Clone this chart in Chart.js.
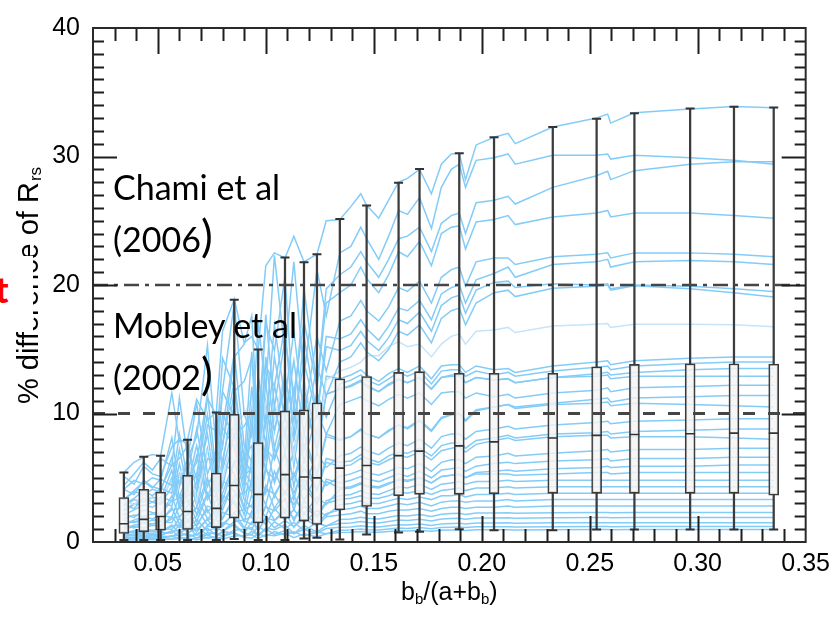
<!DOCTYPE html>
<html>
<head>
<meta charset="utf-8">
<script src="https://cdn.jsdelivr.net/npm/chart.js@4.4.1/dist/chart.umd.min.js"></script>
<style>
  html, body { margin: 0; padding: 0; background: #fff; }
  #wrap { position: relative; width: 837px; height: 620px; overflow: hidden; background: #fff; }
  #c { position: absolute; left: 0; top: 0; }
  .note { position: absolute; font-family: Lato, "Open Sans", sans-serif; font-size: 34px; line-height: 34px; color: #000; white-space: nowrap; }
  .note .big { font-size: 44px; line-height: 0; }
  #cover { position: absolute; left: 0; top: 256px; width: 33px; height: 76px; background: #fff; }
  #redt { position: absolute; left: -5px; top: 271px; font-family: Lato, sans-serif; font-weight: 900; font-size: 36px; line-height: 36px; color: #ff0000; }
</style>
</head>
<body>
<div id="wrap">
  <canvas id="c" width="837" height="620"></canvas>
  <div class="note" style="left:113px; top:170px;">Chami et al</div>
  <div class="note" style="left:113px; top:222px;">(2006<span class="big">)</span></div>
  <div class="note" style="left:113px; top:308px;">Mobley et al</div>
  <div class="note" style="left:113px; top:360px;">(2002<span class="big">)</span></div>
  <div id="cover"></div>
  <div id="redt">t</div>
</div>
<script>
// backscattering ratio b_b/(a+b_b) at which every curve is sampled
const xGrid = [0.0343,0.0390,0.0435,0.0475,0.0513,0.0565,0.0600,0.0638,0.0680,0.0730,0.0771,0.0800,0.0854,0.0900,0.0935,0.0965,0.1000,0.1040,0.1089,0.1130,0.1177,0.1237,0.1280,
  0.1343,0.1394,0.1440,0.1467,0.1523,0.1569,0.1615,0.1656,0.1712,0.1767,0.1813,0.1859,0.1896,0.1925,0.1974,
  0.2057,0.2122,0.2155,0.2329,0.2532,0.2583,0.2597,0.2707,0.2965,0.3168,0.3352];

// % difference of Rrs, one curve per case (upper family)
const up1 = [5.4,6.2,6.6,6.8,6.7,11.6,7.8,8.0,11.1,9.5,10.1,16.4,18.9,15.5,16.0,15.0,21.5,22.5,22.1,23.8,21.8,22.4,25.0,
  25.1,26.1,27.1,26.2,25.2,26.6,28.0,28.3,29.0,27.1,29.4,30.2,30.25,28.2,30.9,
  31.5,31.8,31.0,32.3,33.0,33.3,32.6,33.4,33.7,33.9,33.8];
const up2 = [4.4,5.3,6.2,5.6,6.5,5.9,11.2,6.5,8.2,15.3,7.1,11.8,18.6,10.0,8.2,17.1,11.8,22.3,14.7,21.8,12.9,21.2,17.6,
  22.5,23.0,24.5,23.6,22.0,23.8,25.8,25.5,26.8,24.4,27.6,29.0,29.4,27.6,29.7,
  29.9,30.2,29.4,30.1,30.1,30.2,29.8,30.1,29.9,29.7,29.4];
const up3 = [5.1,4.5,5.9,5.3,5.1,7.4,8.0,7.6,4.8,11.2,9.8,7.4,14.4,15.4,17.6,8.0,17.0,14.9,20.7,10.1,19.7,12.2,19.7,
  20.8,21.4,22.6,21.8,20.6,22.0,23.6,23.8,24.5,22.6,24.8,25.4,25.6,24.0,26.4,
  26.6,26.9,26.3,27.6,28.5,28.85,28.2,28.9,29.4,29.6,29.6];
const up4 = [4.1,4.8,4.5,5.0,4.8,8.1,4.3,6.5,10.8,5.3,7.2,14.3,12.0,6.2,14.8,8.6,17.7,10.5,15.8,11.5,17.2,12.0,18.6,
  19.4,20.0,21.4,20.5,19.4,20.8,22.6,22.2,23.4,21.5,24.0,24.5,24.6,22.8,24.9,
  25.1,25.4,24.7,25.3,25.6,25.8,25.3,25.6,25.6,25.4,25.2];
const up5 = [3.3,4.0,4.7,4.2,4.9,4.4,8.4,4.9,6.2,11.5,5.3,8.9,14.7,7.5,6.2,12.9,8.9,16.9,11.1,16.4,9.8,16.0,13.3,
  17.2,17.6,18.8,18.0,17.2,18.3,19.8,19.5,20.3,18.6,20.6,21.2,21.4,19.9,21.8,
  22.1,22.1,21.6,22.2,22.4,22.5,22.1,22.5,22.5,22.4,22.2];
const up6 = [4.1,3.7,4.8,4.3,4.1,6.0,6.5,7.5,3.9,9.1,8.6,6.0,11.7,12.5,14.3,6.5,13.8,12.1,16.8,8.2,16.0,9.9,16.0,
  15.8,16.2,17.3,16.6,15.7,16.8,18.2,18.0,18.8,17.3,19.3,19.8,20.0,18.6,20.4,
  20.9,21.4,20.6,21.6,21.8,22.0,21.4,21.8,21.9,21.8,21.6];
const up7 = [3.3,3.9,3.7,4.1,3.9,6.6,3.5,5.3,8.8,4.3,5.9,11.7,9.8,5.1,12.1,7.0,14.4,8.6,12.9,9.4,14.0,9.8,15.2,
  14.9,15.3,16.4,15.7,14.9,15.9,17.3,17.0,17.9,16.4,18.4,19.0,19.2,17.8,19.6,
  20.2,20.3,19.8,20.1,20.0,20.1,19.7,20.0,19.9,19.7,19.5];
const up8 = [2.9,3.4,4.0,3.6,4.2,3.8,7.2,4.2,5.3,9.9,4.6,7.6,12.5,6.5,5.3,11.0,7.6,14.4,9.5,14.1,8.4,13.7,11.4,
  14.0,14.4,15.5,14.8,14.1,15.0,16.4,16.1,16.9,15.5,17.4,18.0,18.2,16.9,18.6,
  19.4,19.6,19.1,19.75,19.9,20.0,19.6,19.95,19.7,19.4,19.06];
const up9 = [3.2,2.9,3.7,3.4,3.2,4.8,5.1,6.5,3.1,7.1,6.8,4.8,9.2,9.9,11.2,5.1,10.9,9.5,13.3,6.5,12.6,7.8,12.6,
  13.3,13.6,14.0,14.5,14.5,15.2,15.6,15.2,15.4,14.4,15.4,16.0,16.2,15.4,16.4,
  16.5,16.7,16.3,16.8,16.95,17.0,16.7,16.95,16.95,16.9,16.75];

// bundle below 15 %
const bu1 = [2.8,3.3,3.1,3.5,3.3,5.6,3.0,4.5,7.5,3.6,5.0,9.9,8.3,4.3,10.3,6.0,12.3,7.3,10.9,7.9,11.9,8.3,12.9,
  12.7,13.0,13.4,13.0,12.5,13.1,13.5,13.2,13.7,12.7,13.7,13.8,13.8,13.2,13.7,
  13.4,13.5,13.2,13.7,14.0,14.1,13.8,14.1,14.3,14.4,14.4];
const bu2 = [2.4,2.9,3.4,3.1,3.5,3.2,6.1,3.5,4.5,8.4,3.9,6.4,10.6,5.5,4.5,9.3,6.4,12.2,8.1,11.9,7.1,11.6,9.7,
  12.3,12.6,13.0,12.6,12.2,12.7,13.2,12.9,13.3,12.3,13.3,13.4,13.4,12.9,13.3,
  13.0,13.2,12.9,13.3,13.6,13.7,13.4,13.7,13.9,14.0,14.0];
const bu3 = [2.9,2.6,3.4,3.1,2.9,4.3,4.7,5.9,2.8,6.5,6.2,4.3,8.4,9.0,10.2,4.7,9.9,8.7,12.1,5.9,11.5,7.1,11.5,
  11.9,12.2,12.6,12.2,11.7,12.3,12.7,12.4,12.8,11.9,12.8,13.0,13.0,12.4,12.8,
  12.6,12.7,12.4,12.8,13.1,13.2,13.0,13.2,13.4,13.5,13.5];
const bu4 = [2.5,3.0,2.8,3.1,3.0,5.0,2.7,4.0,6.7,3.3,4.4,8.9,7.4,3.8,9.2,5.3,11.0,6.5,9.8,7.1,10.7,7.4,11.5,
  11.9,12.1,12.5,12.1,11.7,12.2,12.6,12.4,12.8,11.9,12.8,12.9,12.9,12.4,12.8,
  12.6,12.7,12.4,12.8,12.9,13.0,12.7,12.9,12.9,12.9,12.9];
const bu5 = [2.1,2.5,2.9,2.7,3.1,2.8,5.3,3.1,3.9,7.3,3.4,5.6,9.2,4.8,3.9,8.1,5.6,10.6,7.0,10.4,6.2,10.1,8.4,
  10.7,11.0,11.3,11.0,10.6,11.1,11.5,11.2,11.6,10.7,11.6,11.7,11.7,11.2,11.6,
  11.3,11.5,11.2,11.6,11.8,12.0,11.7,12.0,12.1,12.2,12.2];
const mid1 = [2.2,1.9,2.5,2.3,2.2,3.2,3.4,4.3,2.1,4.8,4.6,3.2,6.2,6.6,7.5,3.4,7.3,6.4,8.9,4.3,8.4,5.2,8.4,
  8.0,8.2,8.8,8.4,8.1,8.7,9.1,8.9,9.5,8.7,9.7,9.9,10.0,9.5,10.3,
  10.5,10.7,10.5,10.8,11.1,11.2,10.9,11.2,11.3,11.4,11.4];
const mid2 = [1.8,2.1,2.0,2.2,2.1,3.6,1.9,2.8,4.7,2.3,3.2,6.3,5.3,2.7,6.5,3.8,7.8,4.6,6.9,5.0,7.6,5.3,8.2,
  7.9,8.2,8.7,8.4,8.1,8.6,9.1,8.8,9.4,8.6,9.6,9.9,10.0,9.4,10.2,
  10.5,10.7,10.4,10.7,10.8,10.9,10.6,10.8,10.7,10.6,10.5];
const mid3 = [1.4,1.7,2.0,1.8,2.1,1.9,3.6,2.1,2.7,5.0,2.3,3.8,6.3,3.3,2.7,5.6,3.8,7.3,4.8,7.1,4.2,6.9,5.8,
  6.7,6.9,7.4,7.1,6.8,7.3,7.7,7.5,8.0,7.3,8.2,8.4,8.4,8.0,8.6,
  8.8,9.0,8.8,9.1,9.3,9.4,9.2,9.4,9.5,9.6,9.6];
const mid4 = [1.7,1.5,1.9,1.8,1.7,2.5,2.6,3.3,1.6,3.7,3.5,2.5,4.8,5.1,5.8,2.6,5.6,4.9,6.9,3.3,6.5,4.0,6.5,
  6.2,6.3,6.8,6.5,6.2,6.7,7.0,6.9,7.3,6.7,7.5,7.7,7.7,7.3,7.9,
  8.1,8.3,8.1,8.4,8.5,8.6,8.4,8.6,8.7,8.8,8.8];
const mid5 = [1.4,1.6,1.5,1.7,1.6,2.7,1.4,2.2,3.6,1.8,2.4,4.8,4.0,2.1,5.0,2.9,5.9,3.5,5.3,3.8,5.8,4.0,6.2,
  5.9,6.0,6.5,6.2,6.0,6.4,6.7,6.6,7.0,6.4,7.1,7.3,7.4,7.0,7.6,
  7.9,8.1,7.9,8.2,8.3,8.3,8.1,8.2,8.2,8.1,8.0];
const mid6 = [1.1,1.3,1.5,1.4,1.6,1.5,2.8,1.6,2.0,3.8,1.8,2.9,4.8,2.5,2.0,4.2,2.9,5.5,3.7,5.4,3.2,5.3,4.4,
  5.1,5.3,5.6,5.4,5.2,5.5,5.8,5.7,6.1,5.5,6.2,6.4,6.4,6.1,6.6,
  6.7,6.9,6.7,6.9,7.1,7.2,7.0,7.2,7.2,7.3,7.3];
const mid7 = [1.3,1.1,1.5,1.3,1.3,1.8,2.0,2.5,1.2,2.8,2.6,1.8,3.6,3.8,4.4,2.0,4.2,3.7,5.1,2.5,4.9,3.0,4.9,
  4.6,4.8,5.1,4.9,4.7,5.0,5.3,5.1,5.5,5.0,5.6,5.7,5.8,5.5,5.9,
  6.1,6.2,6.1,6.3,6.4,6.5,6.3,6.5,6.5,6.6,6.6];
const mid8 = [1.0,1.2,1.1,1.3,1.2,2.0,1.1,1.6,2.7,1.3,1.8,3.6,3.0,1.6,3.7,2.2,4.4,2.6,4.0,2.9,4.3,3.0,4.7,
  4.2,4.3,4.6,4.4,4.3,4.6,4.8,4.7,5.0,4.6,5.1,5.2,5.3,5.0,5.4,
  5.5,5.6,5.5,5.7,5.8,5.9,5.8,5.9,5.9,6.0,6.0];
const low1 = [0.73,0.87,1.02,0.92,1.07,0.97,1.85,1.07,1.36,2.53,1.17,1.94,3.21,1.65,1.36,2.82,1.94,3.69,2.43,3.60,2.14,3.50,2.92,
  4.1,4.2,4.5,4.3,4.2,4.5,4.9,4.8,5.0,4.6,5.1,5.2,5.2,5.0,5.3,
  5.3,5.3,5.2,5.3,5.4,5.4,5.3,5.4,5.4,5.4,5.4];
const low2 = [0.82,0.73,0.95,0.86,0.82,1.21,1.30,1.64,0.78,1.81,1.73,1.21,2.33,2.51,2.85,1.30,2.76,2.42,3.37,1.64,3.20,1.99,3.20,
  3.6,3.7,4.0,3.8,3.7,4.0,4.3,4.2,4.5,4.1,4.5,4.6,4.7,4.5,4.7,
  4.7,4.8,4.7,4.8,4.8,4.8,4.8,4.8,4.8,4.8,4.8];
const low3 = [0.66,0.77,0.74,0.81,0.77,1.32,0.70,1.04,1.74,0.85,1.16,2.32,1.94,1.01,2.40,1.39,2.86,1.70,2.55,1.86,2.79,1.94,3.02,
  3.3,3.4,3.6,3.4,3.4,3.6,3.9,3.8,4.0,3.7,4.0,4.1,4.2,4.0,4.2,
  4.2,4.3,4.2,4.3,4.3,4.3,4.3,4.3,4.3,4.3,4.3];
const low4 = [0.51,0.62,0.72,0.65,0.75,0.68,1.30,0.75,0.96,1.78,0.82,1.37,2.26,1.16,0.96,1.98,1.37,2.60,1.71,2.53,1.50,2.46,2.05,
  2.9,3.0,3.2,3.0,3.0,3.2,3.4,3.3,3.5,3.3,3.6,3.6,3.7,3.5,3.7,
  3.7,3.8,3.7,3.8,3.8,3.8,3.8,3.8,3.8,3.8,3.8];
const low5 = [0.56,0.50,0.65,0.59,0.56,0.83,0.89,1.13,0.53,1.25,1.19,0.83,1.60,1.72,1.96,0.89,1.90,1.66,2.32,1.13,2.20,1.37,2.20,
  2.5,2.6,2.8,2.6,2.6,2.8,3.0,2.9,3.1,2.8,3.1,3.2,3.2,3.1,3.2,
  3.2,3.3,3.2,3.3,3.3,3.3,3.3,3.3,3.3,3.3,3.3];
const low6 = [0.43,0.50,0.48,0.53,0.50,0.86,0.45,0.68,1.13,0.55,0.76,1.51,1.26,0.66,1.56,0.91,1.86,1.11,1.66,1.21,1.81,1.26,1.97,
  2.1,2.2,2.4,2.2,2.2,2.4,2.5,2.5,2.6,2.4,2.6,2.7,2.7,2.6,2.7,
  2.7,2.8,2.7,2.8,2.8,2.8,2.8,2.8,2.8,2.8,2.8];
const low7 = [0.31,0.37,0.43,0.39,0.46,0.41,0.79,0.46,0.58,1.08,0.50,0.83,1.37,0.70,0.58,1.20,0.83,1.57,1.04,1.53,0.91,1.49,1.24,
  1.75,1.79,1.93,1.84,1.79,1.93,2.07,2.02,2.14,1.98,2.16,2.21,2.23,2.14,2.25,
  2.25,2.28,2.23,2.28,2.3,2.3,2.28,2.3,2.3,2.3,2.3];
const low8 = [0.32,0.29,0.38,0.34,0.32,0.48,0.51,0.65,0.31,0.72,0.68,0.48,0.92,0.99,1.13,0.51,1.09,0.96,1.33,0.65,1.27,0.79,1.27,
  1.44,1.48,1.60,1.52,1.48,1.60,1.71,1.67,1.77,1.63,1.79,1.82,1.84,1.77,1.86,
  1.86,1.88,1.84,1.88,1.9,1.9,1.88,1.9,1.9,1.9,1.9];
const low9 = [0.23,0.27,0.26,0.28,0.27,0.46,0.24,0.36,0.61,0.30,0.41,0.81,0.68,0.35,0.84,0.49,1.00,0.59,0.89,0.65,0.97,0.68,1.05,
  1.14,1.17,1.26,1.20,1.17,1.26,1.35,1.32,1.40,1.29,1.41,1.44,1.46,1.40,1.47,
  1.47,1.49,1.46,1.49,1.5,1.5,1.49,1.5,1.5,1.5,1.5];
const low10 = [0.16,0.19,0.23,0.21,0.24,0.22,0.41,0.24,0.30,0.56,0.26,0.43,0.71,0.37,0.30,0.63,0.43,0.82,0.54,0.80,0.48,0.78,0.65,
  0.91,0.94,1.01,0.96,0.94,1.01,1.08,1.06,1.12,1.03,1.13,1.15,1.16,1.12,1.18,
  1.18,1.19,1.16,1.19,1.2,1.2,1.19,1.2,1.2,1.2,1.2];
const low11 = [0.17,0.15,0.19,0.17,0.17,0.24,0.26,0.33,0.16,0.37,0.35,0.24,0.47,0.50,0.57,0.26,0.56,0.49,0.68,0.33,0.64,0.40,0.64,
  0.74,0.76,0.81,0.78,0.76,0.81,0.87,0.85,0.90,0.83,0.91,0.93,0.94,0.90,0.95,
  0.95,0.96,0.94,0.96,0.97,0.97,0.96,0.97,0.97,0.97,0.97];

// box-and-whisker summaries of the curves at selected ratios
const boxX   = [0.0343,0.0435,0.0513,0.0638,0.0771,0.0854,0.0965,0.1089,0.1177,0.1237,0.1343,0.1467,0.1615,0.1712,0.1896,0.2057,0.2329,0.2532,0.2707,0.2965,0.3168,0.3352];
const boxMin = [0.15,0.15,0.15,0.15,0.15,0.23,0.15,0.15,0.28,0.33,0.2,0.58,0.74,0.79,0.99,0.92,0.92,0.97,0.97,0.97,0.97,0.97];
const boxQ1  = [0.66,0.79,0.92,0.97,1.12,1.86,1.48,1.86,1.63,1.37,2.49,2.77,3.59,3.71,3.71,3.76,3.79,3.79,3.79,3.79,3.79,3.64];
const boxMed = [1.42,1.76,1.98,2.37,2.62,4.4,3.71,5.24,5.06,4.99,5.75,5.95,6.72,7.07,7.48,7.79,8.09,8.3,8.37,8.42,8.47,8.47];
const boxQ3  = [3.46,4.1,3.89,5.19,5.37,9.95,7.74,10.2,10.28,10.84,12.7,12.88,13.2,13.26,13.13,13.13,13.13,13.64,13.82,13.87,13.87,13.85];
const boxMax = [5.4,6.64,6.72,7.96,10.08,18.85,14.99,22.14,21.78,22.39,25.14,26.18,27.96,29.03,30.25,31.5,32.29,32.93,33.36,33.74,33.87,33.82];

// literature thresholds: Mobley et al (2002) and Chami et al (2006)
const mobleyLevel = [10];
const chamiLevel = [20];

// axis ticks
const xTickLabels = [0.05,0.10,0.15,0.20,0.25,0.30,0.35];
const yTickLabels = [0,10,20,30,40];

const curves = [up1,up2,up3,up4,up5,up6,up7,up8,up9,bu1,bu2,bu3,bu4,bu5,
  mid1,mid2,mid3,mid4,mid5,mid6,mid7,mid8,low1,low2,low3,low4,low5,low6,low7,low8,low9,low10,low11];
const paleCurves = [up9];

const blue = 'rgb(132,204,248)';
const paleBlue = 'rgb(198,228,249)';
const dark = '#333333';

const curveSets = curves.map(vals => ({
  type: 'line',
  data: vals.map((v, j) => ({ x: xGrid[j], y: v })),
  borderColor: paleCurves.includes(vals) ? paleBlue : blue,
  borderWidth: 1.5,
  pointRadius: 0,
  tension: 0,
  fill: false,
  order: 20
}));

const pts = (ys) => boxX.map((x, i) => ({ x, y: ys[i] }));
const range = (lo, hi) => boxX.map((x, i) => ({ x, y: [lo[i], hi[i]] }));

const boxSets = [
  { type: 'bar', data: range(boxMin, boxQ1), backgroundColor: '#3c3c3c', barThickness: 1.6, grouped: false, order: 8 },
  { type: 'bar', data: range(boxQ3, boxMax), backgroundColor: '#3c3c3c', barThickness: 1.6, grouped: false, order: 8 },
  { type: 'bar', data: range(boxQ1, boxQ3), backgroundColor: 'rgba(244,244,244,0.82)', borderColor: '#3a3a3a',
    borderWidth: 1.6, borderSkipped: false, barThickness: 10, grouped: false, order: 6 },
  { type: 'scatter', data: pts(boxMed), pointStyle: 'line', pointRadius: 5, borderColor: dark, borderWidth: 1.6, order: 4 },
  { type: 'scatter', data: pts(boxMin), pointStyle: 'line', pointRadius: 4.5, borderColor: dark, borderWidth: 2, order: 4 },
  { type: 'scatter', data: pts(boxMax), pointStyle: 'line', pointRadius: 4.5, borderColor: dark, borderWidth: 2, order: 4 }
];

const levelSets = [
  { type: 'line', data: [{ x: 0.02, y: mobleyLevel[0] }, { x: 0.35, y: mobleyLevel[0] }], borderColor: '#454545',
    borderWidth: 3.2, borderDash: [12, 13], pointRadius: 0, order: 2 },
  { type: 'line', data: [{ x: 0.02, y: chamiLevel[0] }, { x: 0.35, y: chamiLevel[0] }], borderColor: '#454545',
    borderWidth: 2.6, borderDash: [15, 6, 4, 6], pointRadius: 0, order: 2 }
];

const axisFont = '"Liberation Sans", Arial, Helvetica, sans-serif';

// frame with inward minor/major tick marks on all four sides
const framePlugin = {
  id: 'frame',
  afterDatasetsDraw(chart) {
    const { ctx, chartArea: a, scales: { x, y } } = chart;
    ctx.save();
    ctx.strokeStyle = '#1e1e1e';
    ctx.lineWidth = 2;
    ctx.beginPath();
    for (let k = 3; k <= 34; k++) {
      const px = Math.round(x.getPixelForValue(k / 100)) + 0.5;
      const len = k % 5 === 0 ? 26 : 13;
      ctx.moveTo(px, a.bottom); ctx.lineTo(px, a.bottom - len);
      ctx.moveTo(px, a.top); ctx.lineTo(px, a.top + len);
    }
    for (let k = 1; k <= 39; k++) {
      const py = Math.round(y.getPixelForValue(k)) + 0.5;
      const len = k % 10 === 0 ? 24 : 11;
      ctx.moveTo(a.left, py); ctx.lineTo(a.left + len, py);
      ctx.moveTo(a.right, py); ctx.lineTo(a.right - len, py);
    }
    ctx.stroke();
    ctx.strokeStyle = '#2a2a2a';
    ctx.strokeRect(a.left, a.top, a.right - a.left, a.bottom - a.top);
    ctx.restore();
  },
  afterDraw(chart) {
    const { ctx, chartArea: a } = chart;
    ctx.save();
    ctx.fillStyle = '#000';
    ctx.textBaseline = 'alphabetic';
    // x-axis title: b_b/(a+b_b)
    const parts = [['b', 25, 0], ['b', 15, 4], ['/(a+b', 25, 0], ['b', 15, 4], [')', 25, 0]];
    let total = 0;
    parts.forEach(p => { ctx.font = p[1] + 'px ' + axisFont; total += ctx.measureText(p[0]).width; });
    let cx = (a.left + a.right) / 2 - total / 2;
    parts.forEach(p => {
      ctx.font = p[1] + 'px ' + axisFont;
      ctx.fillText(p[0], cx, 600 + p[2]);
      cx += ctx.measureText(p[0]).width;
    });
    // y-axis title: % difference of R_rs
    ctx.translate(38, (a.top + a.bottom) / 2 + 1);
    ctx.rotate(-Math.PI / 2);
    ctx.font = '29px ' + axisFont;
    const main = '% difference of R';
    const w1 = ctx.measureText(main).width;
    ctx.font = '17px ' + axisFont;
    const w2 = ctx.measureText('rs').width;
    const start = -(w1 + w2) / 2;
    ctx.font = '29px ' + axisFont;
    ctx.fillText(main, start, 0);
    ctx.font = '17px ' + axisFont;
    ctx.fillText('rs', start + w1 + 1, 3);
    ctx.restore();
  }
};

new Chart(document.getElementById('c'), {
  type: 'line',
  data: { datasets: [...curveSets, ...boxSets, ...levelSets] },
  options: {
    responsive: false,
    animation: false,
    devicePixelRatio: 1,
    layout: { padding: { left: 0, right: 28, top: 17, bottom: 0 } },
    plugins: { legend: { display: false }, tooltip: { enabled: false } },
    scales: {
      x: {
        type: 'linear', min: 0.02, max: 0.35, offset: false,
        grid: { display: false, drawTicks: false }, border: { display: false },
        afterBuildTicks: s => { s.ticks = xTickLabels.map(v => ({ value: v })); },
        afterFit: s => { s.height = 78; },
        ticks: { padding: 7, color: '#000', autoSkip: false, maxRotation: 0,
          font: { family: axisFont, size: 25 }, callback: v => Number(v).toFixed(2) }
      },
      y: {
        type: 'linear', min: 0, max: 40,
        grid: { display: false, drawTicks: false }, border: { display: false },
        afterBuildTicks: s => { s.ticks = yTickLabels.map(v => ({ value: v })); },
        afterFit: s => { s.width = 93; },
        ticks: { padding: 13, color: '#000', font: { family: axisFont, size: 25 }, callback: v => String(v) }
      }
    }
  },
  plugins: [framePlugin]
});
</script>
</body>
</html>
